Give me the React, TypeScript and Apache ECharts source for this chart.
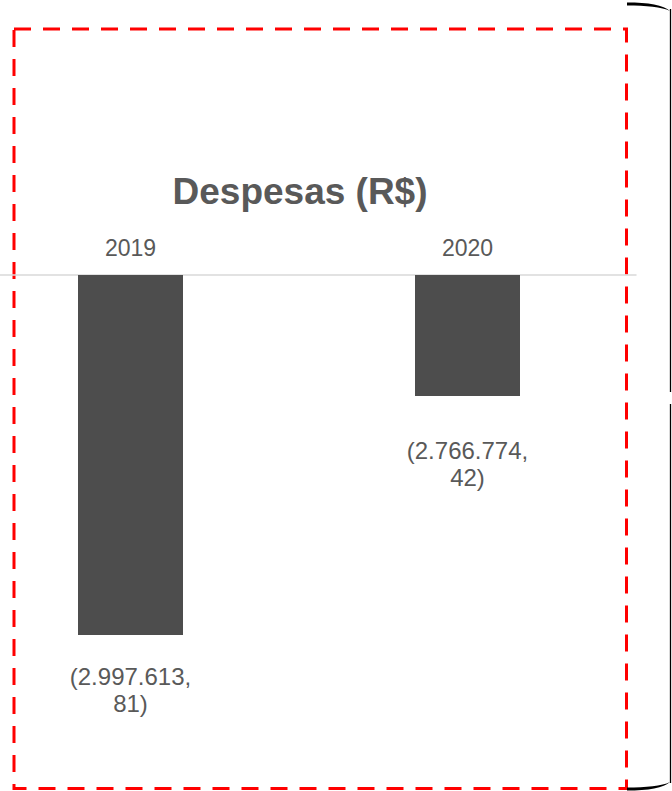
import React, { useEffect, useRef } from "react";
import * as echarts from "echarts";

const categories = ["2019", "2020"];
const despesas = [-2997613.81, -2766774.42];
const axisMax = -2650000;
const axisMin = -3100000;
const titleText = "Despesas (R$)";

const FONT = "'Liberation Sans', Arial, sans-serif";
const labelDistances = [28, 41];

function fmt(v: number): string {
  const [i, d] = Math.abs(v).toFixed(2).split(".");
  const ip = i.replace(/\B(?=(\d{3})+(?!\d))/g, ".");
  return "(" + ip + ",\n" + d + ")";
}

const braceD =
  "M0,0 C21,0 37,2.5 43,8.5 C35,4.5 19,3 0,3 Z";
const braceBottomD =
  "M0,3 C21,3 37,0.5 43,-5.5 C35,-1.5 19,0 0,0 Z";

export default function App() {
  const ref = useRef<HTMLDivElement>(null);
  useEffect(() => {
    if (!ref.current) return;
    echarts.graphic.registerShape("braceTop", echarts.graphic.extendPath(braceD, {}) as any);
    echarts.graphic.registerShape("braceBottom", echarts.graphic.extendPath(braceBottomD, {}) as any);
    const chart = echarts.init(ref.current, null, { renderer: "svg" });
    chart.setOption({
      animation: false,
      backgroundColor: "#ffffff",
      title: {
        text: titleText,
        left: 295,
        top: 168,
        textAlign: "center",
        textStyle: {
          fontFamily: FONT,
          fontSize: 37,
          fontWeight: "bold",
          color: "#595959",
        },
      },
      grid: {
        top: 275,
        bottom: 50,
        left: -38,
        right: 36,
        containLabel: false,
        outerBoundsMode: "none",
      },
      xAxis: {
        type: "category",
        data: categories,
        position: "top",
        axisLine: { show: true, onZero: false, lineStyle: { color: "#d9d9d9", width: 1.5 } },
        axisTick: { show: false },
        axisLabel: { margin: 16, fontFamily: FONT, fontSize: 23, color: "#595959" },
        splitLine: { show: false },
      },
      yAxis: {
        type: "value",
        min: axisMin,
        max: axisMax,
        show: false,
        splitLine: { show: false },
      },
      series: [
        {
          type: "bar",
          data: despesas.map((v, i) => ({
            value: v,
            label: { distance: labelDistances[i] },
          })),
          barWidth: 105,
          clip: true,
          itemStyle: { color: "#4d4d4d" },
          label: {
            show: true,
            position: "bottom",
            formatter: (p: any) => fmt(p.value),
            fontFamily: FONT,
            fontSize: 24,
            lineHeight: 27,
            color: "#595959",
            align: "center",
          },
        },
      ],
      graphic: [
        {
          type: "rect",
          shape: { x: 14, y: 29, width: 612.5, height: 759.5 },
          style: { fill: "none", stroke: "#ff0000", lineWidth: 3, lineDash: [17, 12] },
          silent: true,
        },
        {
          type: "braceTop",
          x: 627,
          y: 2.5,
          style: { fill: "#000000", stroke: "none" },
          silent: true,
        },
        {
          type: "braceBottom",
          x: 627,
          y: 787.5,
          style: { fill: "#000000", stroke: "none" },
          silent: true,
        },
        {
          type: "polyline",
          shape: { points: [[670.5, 9], [670.5, 392]] },
          style: { stroke: "#000000", lineWidth: 1.3, fill: "none" },
          silent: true,
        },
        {
          type: "polyline",
          shape: { points: [[670.5, 404], [670.5, 783]] },
          style: { stroke: "#000000", lineWidth: 1.3, fill: "none" },
          silent: true,
        },
      ],
    });
    return () => chart.dispose();
  }, []);
  return (
    <div
      ref={ref}
      style={{ position: "fixed", left: 0, top: 0, width: 672, height: 791 }}
    />
  );
}
